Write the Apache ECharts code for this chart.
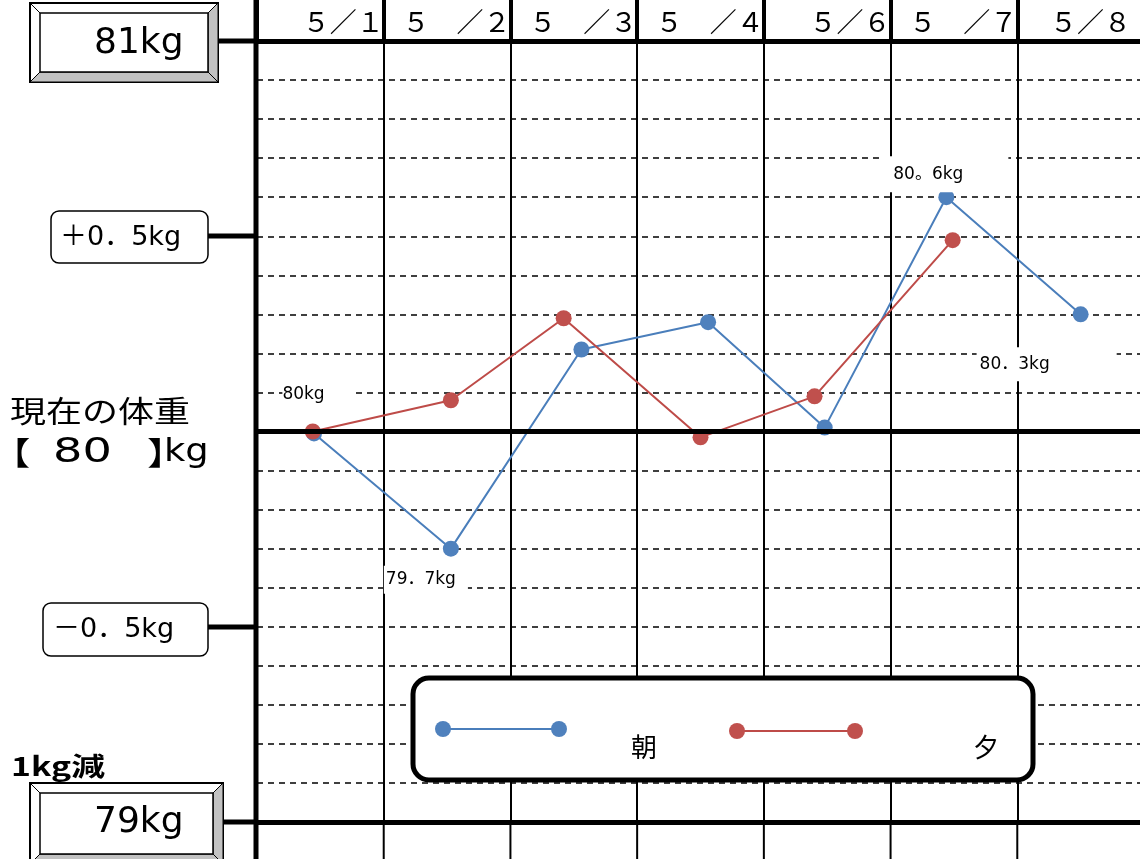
<!DOCTYPE html>
<html><head><meta charset="utf-8">
<script src="https://cdn.jsdelivr.net/npm/echarts@6/dist/echarts.min.js"></script>
<style>html,body{margin:0;padding:0;background:#fff}#c{width:1140px;height:859px}</style>
</head><body><div id="c"></div>
<script>
// ---- data ----
const dates = ['５／１', '５　／２', '５　／３', '５　／４', '５／６', '５　／７', '５／８'];
const morningDay = [0.45, 1.53, 2.56, 3.56, 4.48, 5.44, 6.50];
const morningKg  = [79.995, 79.70, 80.21, 80.28, 80.01, 80.60, 80.30];
const morningLabels = ['80kg', '79．7kg', '', '', '', '80。6kg', '80．3kg'];
const eveningDay = [0.44, 1.53, 2.42, 3.50, 4.40, 5.49];
const eveningKg  = [80.00, 80.08, 80.29, 79.985, 80.09, 80.49];
const currentKg = 80;
const topKg = 81, bottomKg = 79;
const sideTicks = ['81kg', '＋0．5kg', '－0．5kg', '79kg'];
const seriesNames = ['朝', '夕'];

// ---- styles ----
const BLUE_LINE = '#4a7ebb', BLUE_DOT = '#4f81bd';
const RED_LINE = '#be4b48', RED_DOT = '#c0504d';
const LATIN = '"DejaVu Sans", "Noto Sans CJK JP", sans-serif';
const CJK = '"Noto Sans CJK JP", sans-serif';
const GRAY = '#c2c2c2';

const labelStyles = {
  0: {offset: [5, -39], padding: [3, 31, 3, 0]},
  1: {offset: [-25, 31], padding: [4, 12, 4, 2]},
  5: {offset: [-2, -23], padding: [8, 45, 8, 13]},
  6: {offset: [-34, 50], padding: [7, 67, 7, 3]}
};

const morningData = morningDay.map((d, i) => {
  const item = {value: [d, morningKg[i]]};
  if (morningLabels[i]) {
    const s = labelStyles[i];
    item.label = {
      show: true, formatter: morningLabels[i], position: 'inside',
      offset: s.offset, padding: s.padding, backgroundColor: '#fff',
      color: '#000', fontSize: 17, fontFamily: LATIN, lineHeight: 20
    };
  }
  return item;
});
const eveningData = eveningDay.map((d, i) => [d, eveningKg[i]]);

function bevelBox(x0, y0, x1, y1, b) {
  const xi0 = x0 + b, yi0 = y0 + b, xi1 = x1 - b, yi1 = y1 - b;
  return [
    {type: 'rect', shape: {x: x0, y: y0, width: x1 - x0, height: y1 - y0}, style: {fill: '#fff', stroke: '#000', lineWidth: 2}, z: 10},
    {type: 'polygon', shape: {points: [[xi1, yi0], [x1, y0], [x1, y1], [xi1, yi1]]}, style: {fill: GRAY, stroke: '#000', lineWidth: 1}, z: 11},
    {type: 'polygon', shape: {points: [[xi0, yi1], [xi1, yi1], [x1, y1], [x0, y1]]}, style: {fill: GRAY, stroke: '#000', lineWidth: 1}, z: 11},
    {type: 'rect', shape: {x: xi0, y: yi0, width: xi1 - xi0, height: yi1 - yi0}, style: {fill: '#fff', stroke: '#000', lineWidth: 1.5}, z: 12},
    {type: 'line', shape: {x1: x0, y1: y0, x2: xi0, y2: yi0}, style: {stroke: '#000', lineWidth: 1}, z: 12},
    {type: 'line', shape: {x1: x1, y1: y0, x2: xi1, y2: yi0}, style: {stroke: '#000', lineWidth: 1}, z: 12},
    {type: 'line', shape: {x1: x0, y1: y1, x2: xi0, y2: yi1}, style: {stroke: '#000', lineWidth: 1}, z: 12}
  ];
}
function hline(x1, x2, y, w) {
  return {type: 'line', shape: {x1, y1: y, x2, y2: y}, style: {stroke: '#000', lineWidth: w}, z: 9};
}
function txt(text, x, y, size, family, opts, weight) {
  return Object.assign({
    type: 'text', x, y, z: 20,
    style: {text, fontSize: size, fontFamily: family, fontWeight: weight || 'normal', fill: '#000', textAlign: 'left', textVerticalAlign: 'middle'}
  }, opts || {});
}

const graphics = [].concat(
  [{type: 'line', shape: {x1: 256, y1: 0, x2: 256, y2: 859}, style: {stroke: '#000', lineWidth: 5}, z: 9}],
  hline(218, 257, 41, 5), hline(208, 257, 236, 5), hline(208, 257, 627, 5), hline(222, 257, 822, 5),
  bevelBox(30, 3, 218, 82, 10),
  bevelBox(30, 783, 223, 864, 10),
  [
    {type: 'rect', shape: {x: 51, y: 211, width: 157, height: 52, r: 8}, style: {fill: '#fff', stroke: '#000', lineWidth: 1.5}, z: 10},
    {type: 'rect', shape: {x: 43, y: 603, width: 165, height: 53, r: 8}, style: {fill: '#fff', stroke: '#000', lineWidth: 1.5}, z: 10},
    txt(sideTicks[0], 94, 44, 36, LATIN),
    txt(sideTicks[3], 94, 823, 36, LATIN),
    txt(sideTicks[1], 60, 238, 27, LATIN),
    txt(sideTicks[2], 53, 630, 27, LATIN),
    txt('現在の体重', 10, 411, 30, CJK, {scaleX: 1.2}),
    txt('【', -8, 453, 32, CJK, {scaleX: 1.2}),
    txt(String(currentKg), 53, 453, 33, LATIN, {scaleX: 1.4}),
    txt('】', 147, 453, 32, CJK, {scaleX: 1.2}),
    txt('kg', 164, 453, 32, LATIN, {scaleX: 1.15}),
    txt('1kg減', 11, 766, 26, CJK, {scaleX: 1.3}, 'bold'),
    // legend
    {type: 'rect', shape: {x: 413, y: 678, width: 620, height: 102, r: 16}, style: {fill: '#fff', stroke: '#000', lineWidth: 5}, z: 30},
    {type: 'line', shape: {x1: 443, y1: 729, x2: 559, y2: 729}, style: {stroke: BLUE_LINE, lineWidth: 2}, z: 31},
    {type: 'circle', shape: {cx: 443, cy: 729, r: 8}, style: {fill: BLUE_DOT}, z: 32},
    {type: 'circle', shape: {cx: 559, cy: 729, r: 8}, style: {fill: BLUE_DOT}, z: 32},
    txt(seriesNames[0], 631, 747, 26, CJK, {z: 32}),
    {type: 'line', shape: {x1: 737, y1: 731, x2: 855, y2: 731}, style: {stroke: RED_LINE, lineWidth: 2}, z: 31},
    {type: 'circle', shape: {cx: 737, cy: 731, r: 8}, style: {fill: RED_DOT}, z: 32},
    {type: 'circle', shape: {cx: 855, cy: 731, r: 8}, style: {fill: RED_DOT}, z: 32},
    txt(seriesNames[1], 973, 747, 26, CJK, {z: 32})
  ]
);

const chart = echarts.init(document.getElementById('c'), null, {renderer: 'canvas'});
chart.setOption({
  animation: false,
  backgroundColor: '#fff',
  grid: {left: 257, top: 41, width: 887, height: 781, outerBoundsMode: 'none', containLabel: false},
  xAxis: {
    type: 'value', position: 'top', min: 0, max: 7, interval: 1,
    axisLine: {show: true, lineStyle: {color: '#000', width: 5}},
    axisTick: {show: true, inside: false, length: 41, lineStyle: {color: '#000', width: 4}},
    axisLabel: {
      show: true, margin: 19, align: 'right', verticalAlign: 'middle',
      fontSize: 27, fontFamily: CJK, color: '#000',
      formatter: v => (v >= 1 && v <= dates.length) ? (v === dates.length ? '{last|' + dates[v - 1] + '}' : dates[v - 1]) : '',
      rich: {last: {fontSize: 27, fontFamily: CJK, color: '#000', padding: [0, 13, 0, 0]}}
    },
    splitLine: {show: true, lineStyle: {color: '#000', width: 2}}
  },
  yAxis: {
    type: 'value', min: bottomKg, max: topKg, interval: 0.1,
    axisLine: {show: false}, axisTick: {show: false}, axisLabel: {show: false},
    splitLine: {show: true, lineStyle: {color: '#000', width: 1.5, type: [6, 5]}}
  },
  graphic: {elements: graphics},
  series: [
    {
      type: 'line', data: [], z: 1, silent: true,
      markLine: {
        silent: true, symbol: ['none', 'none'], label: {show: false},
        lineStyle: {color: '#000', width: 5, type: 'solid'},
        data: [{yAxis: currentKg}, {yAxis: bottomKg}]
      }
    },
    {
      name: seriesNames[0], type: 'line', z: 3, data: morningData,
      symbol: 'circle', symbolSize: 16,
      lineStyle: {color: BLUE_LINE, width: 2}, itemStyle: {color: BLUE_DOT}
    },
    {
      name: seriesNames[1], type: 'line', z: 4, data: eveningData,
      symbol: 'circle', symbolSize: 16,
      lineStyle: {color: RED_LINE, width: 2}, itemStyle: {color: RED_DOT}
    }
  ]
});

// extend the day separators below the 79kg line to the bottom edge
const yBottom = chart.convertToPixel({yAxisIndex: 0}, bottomKg);
const extra = [];
for (let d = 1; d < dates.length; d++) {
  const x = chart.convertToPixel({xAxisIndex: 0}, d);
  extra.push({type: 'line', shape: {x1: x, y1: yBottom, x2: x, y2: 859}, style: {stroke: '#000', lineWidth: 2}, z: 8});
}
chart.setOption({graphic: {elements: graphics.concat(extra)}});
</script></body></html>
